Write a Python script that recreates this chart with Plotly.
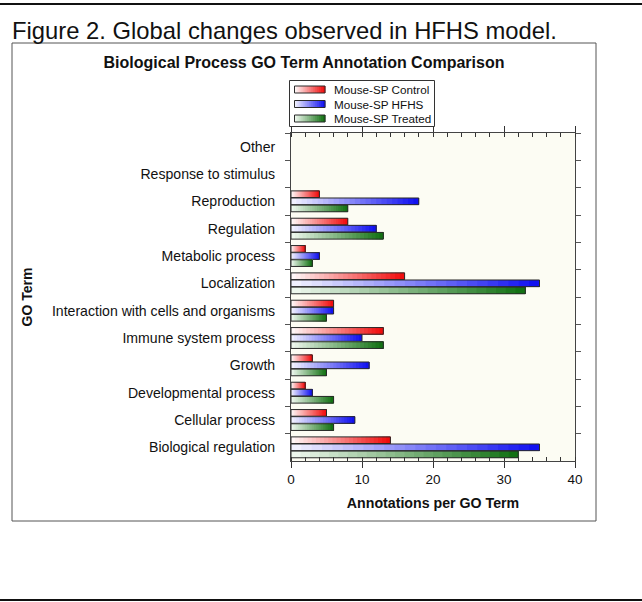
import plotly.graph_objects as go

# ---------------- data ----------------
categories = [
    "Other",
    "Response to stimulus",
    "Reproduction",
    "Regulation",
    "Metabolic process",
    "Localization",
    "Interaction with cells and organisms",
    "Immune system process",
    "Growth",
    "Developmental process",
    "Cellular process",
    "Biological regulation",
]
control = [0, 0, 4, 8, 2, 16, 6, 13, 3, 2, 5, 14]
hfhs = [0, 0, 18, 12, 4, 35, 6, 10, 11, 3, 9, 35]
treated = [0, 0, 8, 13, 3, 33, 5, 13, 5, 6, 6, 32]
series_names = ["Mouse-SP Control", "Mouse-SP HFHS", "Mouse-SP Treated"]
x_ticks = [0, 10, 20, 30, 40]

# ---------------- styling ----------------
W_TOT, H_TOT = 642, 602
M_L, M_R, M_T, M_B = 291, 67, 133, 141
PW = W_TOT - M_L - M_R
PH = H_TOT - M_T - M_B
FONT = "Liberation Sans, Arial, sans-serif"

def px_x(px):
    return (px - M_L) / PW

def px_y(py):
    return (H_TOT - M_B - py) / PH

grad = [
    ((255, 252, 252), (240, 8, 8)),
    ((246, 246, 255), (12, 12, 240)),
    ((242, 250, 242), (14, 110, 14)),
]
K = 24

def mix(a, b, t):
    return "rgb(%d,%d,%d)" % tuple(round(a[i] + (b[i] - a[i]) * t) for i in range(3))

fig = go.Figure()
all_series = [control, hfhs, treated]
for s, vals in enumerate(all_series):
    c0, c1 = grad[s]
    # overlapping layers: each layer starts further right and runs to the bar end
    for k in range(K):
        fig.add_trace(go.Bar(
            y=categories,
            x=[v * (K - k) / K for v in vals],
            base=[v * k / K for v in vals],
            orientation="h",
            offsetgroup=str(s),
            marker=dict(color=mix(c0, c1, (k + 0.5) / K), line=dict(width=0)),
            showlegend=False,
            hoverinfo="skip",
        ))
    # outline of the full bar (no outline for empty bars)
    fig.add_trace(go.Bar(
        y=categories,
        x=vals,
        orientation="h",
        offsetgroup=str(s),
        marker=dict(color="rgba(0,0,0,0)",
                    line=dict(color="#2a2a2a", width=[1 if v else 0 for v in vals])),
        showlegend=False,
        name=series_names[s],
    ))

# ---------------- legend (drawn box) ----------------
LEG_X0, LEG_X1, LEG_Y0, LEG_Y1 = 289.5, 434.5, 80.5, 126.5
row_centers = [89.5, 104, 118.5]
SW_X0, SW_X1, SW_H = 294.5, 325, 7
shapes = [
    dict(type="rect", xref="paper", yref="paper",
         x0=px_x(12), x1=px_x(596), y0=px_y(521), y1=px_y(43),
         line=dict(color="#555555", width=1), layer="below"),
    dict(type="line", xref="paper", yref="paper",
         x0=px_x(0), x1=px_x(642), y0=px_y(4), y1=px_y(4),
         line=dict(color="#111111", width=2)),
    dict(type="line", xref="paper", yref="paper",
         x0=px_x(0), x1=px_x(642), y0=px_y(600), y1=px_y(600),
         line=dict(color="#111111", width=2)),
    dict(type="rect", xref="paper", yref="paper",
         x0=px_x(LEG_X0), x1=px_x(LEG_X1), y0=px_y(LEG_Y1), y1=px_y(LEG_Y0),
         line=dict(color="#333333", width=1), fillcolor="white"),
]
annotations = [
    dict(text="Figure 2. Global changes observed in HFHS model.",
         xref="paper", yref="paper", x=px_x(10), y=px_y(30),
         xanchor="left", yanchor="middle", showarrow=False,
         font=dict(family=FONT, size=23.8, color="#111111")),
]
NSL = 15
for s, name in enumerate(series_names):
    c0, c1 = grad[s]
    yc = row_centers[s]
    for j in range(NSL):
        a = SW_X0 + (SW_X1 - SW_X0) * j / NSL
        b = SW_X0 + (SW_X1 - SW_X0) * (j + 1) / NSL + 0.4
        shapes.append(dict(type="rect", xref="paper", yref="paper",
                           x0=px_x(a), x1=px_x(b),
                           y0=px_y(yc + SW_H / 2), y1=px_y(yc - SW_H / 2),
                           line=dict(width=0), fillcolor=mix(c0, c1, (j + 0.5) / NSL)))
    shapes.append(dict(type="rect", xref="paper", yref="paper",
                       x0=px_x(SW_X0), x1=px_x(SW_X1),
                       y0=px_y(yc + SW_H / 2), y1=px_y(yc - SW_H / 2),
                       line=dict(color="#2a2a2a", width=1)))
    annotations.append(dict(text=name, xref="paper", yref="paper",
                            x=px_x(332), y=px_y(yc), xanchor="left", yanchor="middle",
                            showarrow=False,
                            font=dict(family=FONT, size=11.7, color="#111111")))

fig.update_layout(
    width=W_TOT, height=H_TOT,
    margin=dict(l=M_L, r=M_R, t=M_T, b=M_B, pad=0),
    paper_bgcolor="white",
    plot_bgcolor="#fcfcf3",
    barmode="group",
    bargap=0.22,
    bargroupgap=0.06,
    showlegend=False,
    font=dict(family=FONT, size=12, color="#111111"),
    title=dict(text="<b>Biological Process GO Term Annotation Comparison</b>",
               x=304 / W_TOT, xanchor="center", xref="container",
               y=1 - 62 / H_TOT, yanchor="middle", yref="container",
               font=dict(family=FONT, size=16, color="#111111")),
    shapes=shapes,
    annotations=annotations,
    xaxis=dict(range=[0, 40], tickvals=x_ticks, ticktext=[str(t) for t in x_ticks],
               ticks="outside", ticklen=6, tickcolor="#333333",
               minor=dict(dtick=2, tick0=0, ticks="inside", ticklen=4, tickcolor="#333333"),
               showline=True, linecolor="#444444", linewidth=1, mirror="ticks",
               showgrid=False, zeroline=False,
               tickfont=dict(family=FONT, size=13.5, color="#111111"),
               title=dict(text="<b>Annotations per GO Term</b>", standoff=11,
                          font=dict(family=FONT, size=14.2, color="#111111"))),
    yaxis=dict(type="category", categoryorder="array", categoryarray=categories,
               autorange="reversed",
               tickson="boundaries", ticks="outside", ticklen=5, tickcolor="#555555",
               showline=True, linecolor="#444444", linewidth=1, mirror="ticks",
               showgrid=False, zeroline=False,
               tickfont=dict(family=FONT, size=14.1, color="#111111"),
               ticklabelstandoff=12,
               title=dict(text="<b>GO Term</b>", standoff=16,
                          font=dict(family=FONT, size=14, color="#111111"))),
)

fig.write_html("out.html")
